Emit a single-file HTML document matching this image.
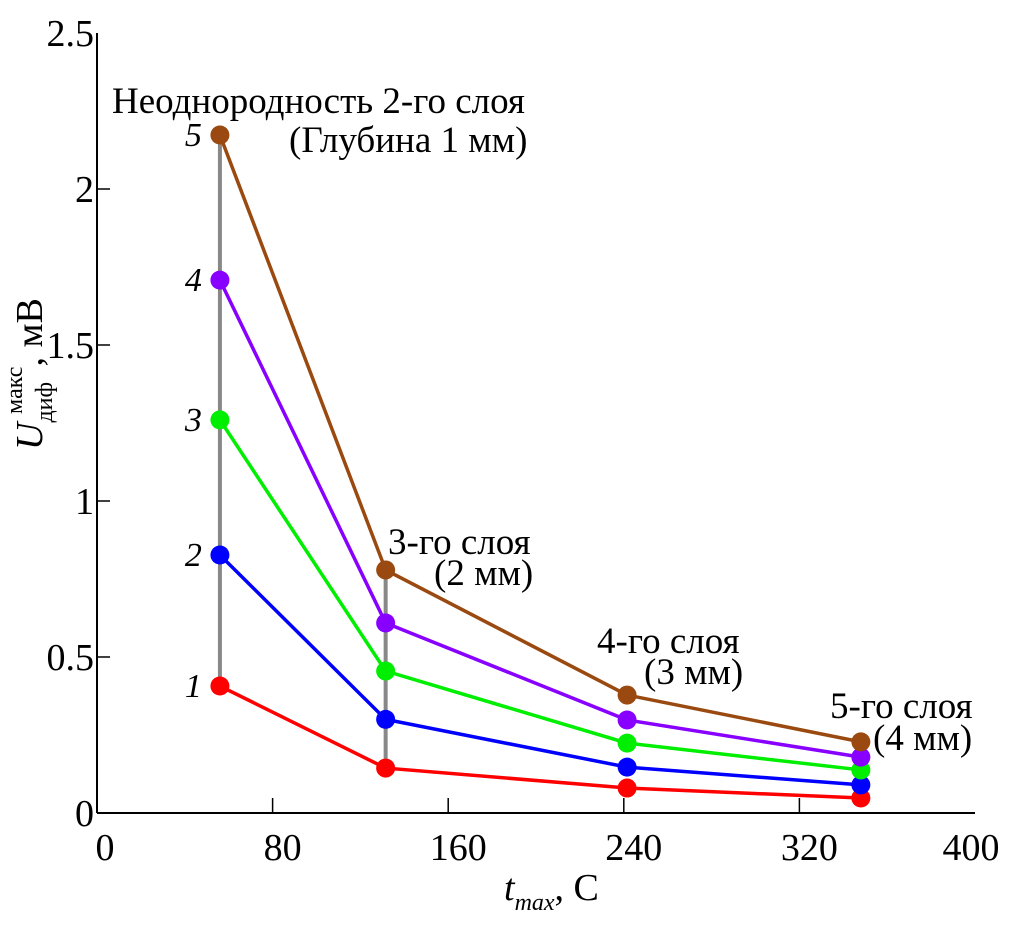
<!DOCTYPE html>
<html><head><meta charset="utf-8"><style>
body{margin:0;background:#fff}
svg text{font-family:"Liberation Serif","DejaVu Serif",serif;fill:#000}
</style></head><body>
<svg id="c" width="1010" height="922" viewBox="0 0 1010 922" xmlns="http://www.w3.org/2000/svg"></svg>
<script>
const xVals=[56,131.5,241.5,348];
const seriesRed=[0.407,0.144,0.08,0.048];
const seriesBlue=[0.827,0.30,0.147,0.09];
const seriesGreen=[1.26,0.455,0.224,0.138];
const seriesPurple=[1.708,0.609,0.298,0.179];
const seriesBrown=[2.173,0.779,0.378,0.228];
const xTicks=[0,80,160,240,320,400];
const yTicks=[0,0.5,1,1.5,2,2.5];
const yTickLabels=["0","0.5","1","1.5","2","2.5"];
const curveLabels=["1","2","3","4","5"];

const NS="http://www.w3.org/2000/svg";
const svg=document.getElementById('c');
const X=v=>97+v*2.195;
const Y=v=>813-v*312;
function mk(t,a,p){const e=document.createElementNS(NS,t);for(const k in a)e.setAttribute(k,a[k]);(p||svg).appendChild(e);return e;}

let ax=mk('line',{x1:97,y1:813,x2:975,y2:813,stroke:'#000','stroke-width':2});


let ay=mk('line',{x1:97,y1:813,x2:97,y2:33,stroke:'#000','stroke-width':2});


xTicks.forEach((t,i)=>{
  if(i>0&&i<xTicks.length-1){let l=mk('line',{x1:X(t),y1:813,x2:X(t),y2:798,stroke:'#000','stroke-width':1.5});
  
  }
  let tx=mk('text',{x:X(t)+(i==0?8:i==xTicks.length-1?-4:10),y:860,'font-size':38,'text-anchor':'middle'});
  tx.textContent=t;
  
  
});
yTicks.forEach((t,i)=>{
  if(i>0&&i<yTicks.length-1){let l=mk('line',{x1:97,y1:Y(t),x2:110,y2:Y(t),stroke:'#000','stroke-width':1.5});
  
  }
  let tx=mk('text',{x:94,y:Y(t)+13,'font-size':38,'text-anchor':'end'});
  tx.textContent=yTickLabels[i];
  
  
});
[0,1].forEach(i=>{
  let l=mk('line',{x1:X(xVals[i]),y1:Y(seriesRed[i]),x2:X(xVals[i]),y2:Y(seriesBrown[i]),stroke:'#888','stroke-width':4});
  
  
});
const all=[[seriesRed,'#ff0000','red'],[seriesBlue,'#0000ff','blue'],[seriesGreen,'#00ee00','green'],[seriesPurple,'#8800ff','purple'],[seriesBrown,'#9a4a10','brown']];
all.forEach(([d,c,n],si)=>{
  let p=mk('polyline',{points:d.map((v,i)=>X(xVals[i])+','+Y(v)).join(' '),fill:'none',stroke:c,'stroke-width':3.5});
  
  
  d.forEach((v,i)=>{
    let ci=mk('circle',{cx:X(xVals[i]),cy:Y(v),r:9.5,fill:c});
    
    
  });
  let t=mk('text',{x:X(xVals[0])-18,y:Y(d[0])+11,'font-size':34,'font-style':'italic','text-anchor':'end'});
  t.textContent=curveLabels[si];
  
  
});
function txt(s,x,y,name){let t=mk('text',{x:x,y:y,'font-size':37});t.textContent=s;
  
  return t;}
txt('Неоднородность 2-го слоя',112,113,'annotation-layer2');
txt('(Глубина 1 мм)',289,152,'annotation-depth1');
txt('3-го слоя',388,554,'annotation-layer3');
txt('(2 мм)',434,585,'annotation-depth2');
txt('4-го слоя',597,653,'annotation-layer4');
txt('(3 мм)',644,684,'annotation-depth3');
txt('5-го слоя',830,718,'annotation-layer5');
txt('(4 мм)',873,750,'annotation-depth4');
let xt=mk('text',{x:504,y:900,'font-size':38});


xt.innerHTML='<tspan font-style="italic">t</tspan><tspan font-style="italic" font-size="24" dy="10">max</tspan><tspan dy="-10">, С</tspan>';
let yt=mk('text',{x:0,y:0,'font-size':38,transform:'translate(42,450) rotate(-90)'});


yt.innerHTML='<tspan font-style="italic">U</tspan><tspan font-size="24" dy="10">диф</tspan><tspan font-size="24" dy="-30" dx="-32">макс</tspan><tspan dy="20">, мВ</tspan>';
</script>
</body></html>
